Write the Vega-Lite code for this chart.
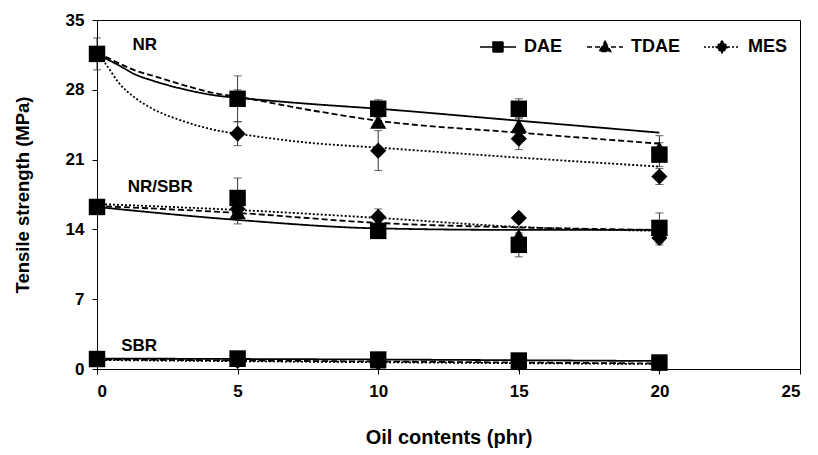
{
  "$schema": "https://vega.github.io/schema/vega-lite/v6.json",
  "width": 703,
  "height": 349,
  "autosize": {"type": "none"},
  "padding": {"left": 97, "top": 20, "right": 18, "bottom": 86},
  "background": "white",
  "config": {
    "font": "Liberation Sans",
    "view": {"stroke": "black", "strokeWidth": 1},
    "axis": {
      "labelFont": "Liberation Sans", "labelFontWeight": "bold", "labelFontSize": 17, "labelColor": "black",
      "titleFont": "Liberation Sans", "titleFontWeight": "bold", "titleFontSize": 19, "titleColor": "black",
      "domainColor": "black", "tickColor": "black", "grid": false, "tickSize": 5, "domainWidth": 1, "tickWidth": 1
    }
  },
  "datasets": {
    "points": [
      {"compound": "NR", "oil": "MES", "x": 0, "y": 31.6, "err": 0},
      {"compound": "NR", "oil": "MES", "x": 5, "y": 23.6, "err": 1.2},
      {"compound": "NR", "oil": "MES", "x": 10, "y": 21.9, "err": 2.0},
      {"compound": "NR", "oil": "MES", "x": 15, "y": 23.1, "err": 1.1},
      {"compound": "NR", "oil": "MES", "x": 20, "y": 19.3, "err": 0.8},
      {"compound": "NR", "oil": "TDAE", "x": 0, "y": 31.6, "err": 0},
      {"compound": "NR", "oil": "TDAE", "x": 5, "y": 27.2, "err": 0.8},
      {"compound": "NR", "oil": "TDAE", "x": 10, "y": 24.8, "err": 0.6},
      {"compound": "NR", "oil": "TDAE", "x": 15, "y": 24.4, "err": 0.8},
      {"compound": "NR", "oil": "TDAE", "x": 20, "y": 22.1, "err": 1.3},
      {"compound": "NR", "oil": "DAE", "x": 0, "y": 31.6, "err": 1.6},
      {"compound": "NR", "oil": "DAE", "x": 5, "y": 27.1, "err": 2.3},
      {"compound": "NR", "oil": "DAE", "x": 10, "y": 26.1, "err": 0.9},
      {"compound": "NR", "oil": "DAE", "x": 15, "y": 26.1, "err": 1.0},
      {"compound": "NR", "oil": "DAE", "x": 20, "y": 21.5, "err": 1.2},
      {"compound": "NR/SBR", "oil": "MES", "x": 0, "y": 16.25, "err": 0},
      {"compound": "NR/SBR", "oil": "MES", "x": 5, "y": 16.05, "err": 0.5},
      {"compound": "NR/SBR", "oil": "MES", "x": 10, "y": 15.25, "err": 0.8},
      {"compound": "NR/SBR", "oil": "MES", "x": 15, "y": 15.15, "err": 0.4},
      {"compound": "NR/SBR", "oil": "MES", "x": 20, "y": 13.15, "err": 0.7},
      {"compound": "NR/SBR", "oil": "TDAE", "x": 0, "y": 16.25, "err": 0},
      {"compound": "NR/SBR", "oil": "TDAE", "x": 5, "y": 15.75, "err": 1.2},
      {"compound": "NR/SBR", "oil": "TDAE", "x": 10, "y": 14.25, "err": 0.5},
      {"compound": "NR/SBR", "oil": "TDAE", "x": 15, "y": 13.35, "err": 0.8},
      {"compound": "NR/SBR", "oil": "TDAE", "x": 20, "y": 14.05, "err": 0.8},
      {"compound": "NR/SBR", "oil": "DAE", "x": 0, "y": 16.25, "err": 0.3},
      {"compound": "NR/SBR", "oil": "DAE", "x": 5, "y": 17.15, "err": 2.0},
      {"compound": "NR/SBR", "oil": "DAE", "x": 10, "y": 13.85, "err": 0.6},
      {"compound": "NR/SBR", "oil": "DAE", "x": 15, "y": 12.45, "err": 1.2},
      {"compound": "NR/SBR", "oil": "DAE", "x": 20, "y": 14.15, "err": 1.5},
      {"compound": "SBR", "oil": "MES", "x": 0, "y": 1.0, "err": 0},
      {"compound": "SBR", "oil": "MES", "x": 5, "y": 0.8, "err": 0.4},
      {"compound": "SBR", "oil": "MES", "x": 10, "y": 0.65, "err": 0.3},
      {"compound": "SBR", "oil": "MES", "x": 15, "y": 0.6, "err": 0.3},
      {"compound": "SBR", "oil": "MES", "x": 20, "y": 0.5, "err": 0.3},
      {"compound": "SBR", "oil": "TDAE", "x": 0, "y": 1.0, "err": 0},
      {"compound": "SBR", "oil": "TDAE", "x": 5, "y": 0.9, "err": 0.5},
      {"compound": "SBR", "oil": "TDAE", "x": 10, "y": 0.75, "err": 0.3},
      {"compound": "SBR", "oil": "TDAE", "x": 15, "y": 0.7, "err": 0.4},
      {"compound": "SBR", "oil": "TDAE", "x": 20, "y": 0.55, "err": 0.3},
      {"compound": "SBR", "oil": "DAE", "x": 0, "y": 1.0, "err": 0.3},
      {"compound": "SBR", "oil": "DAE", "x": 5, "y": 1.05, "err": 0.5},
      {"compound": "SBR", "oil": "DAE", "x": 10, "y": 0.95, "err": 0.5},
      {"compound": "SBR", "oil": "DAE", "x": 15, "y": 0.85, "err": 0.5},
      {"compound": "SBR", "oil": "DAE", "x": 20, "y": 0.65, "err": 0.5}
    ],
    "fits": [
      {"compound": "NR", "oil": "DAE", "x": 0, "y": 31.6},
      {"compound": "NR", "oil": "DAE", "x": 0.3, "y": 31.15},
      {"compound": "NR", "oil": "DAE", "x": 0.75, "y": 30.5},
      {"compound": "NR", "oil": "DAE", "x": 1.35, "y": 29.55},
      {"compound": "NR", "oil": "DAE", "x": 2, "y": 28.9},
      {"compound": "NR", "oil": "DAE", "x": 3.1, "y": 28.05},
      {"compound": "NR", "oil": "DAE", "x": 4.3, "y": 27.4},
      {"compound": "NR", "oil": "DAE", "x": 5, "y": 27.2},
      {"compound": "NR", "oil": "DAE", "x": 7.5, "y": 26.6},
      {"compound": "NR", "oil": "DAE", "x": 10, "y": 26.1},
      {"compound": "NR", "oil": "DAE", "x": 15, "y": 24.9},
      {"compound": "NR", "oil": "DAE", "x": 20, "y": 23.7},
      {"compound": "NR", "oil": "TDAE", "x": 0, "y": 31.6},
      {"compound": "NR", "oil": "TDAE", "x": 0.3, "y": 31.3},
      {"compound": "NR", "oil": "TDAE", "x": 0.75, "y": 30.7},
      {"compound": "NR", "oil": "TDAE", "x": 1.35, "y": 29.95},
      {"compound": "NR", "oil": "TDAE", "x": 2, "y": 29.4},
      {"compound": "NR", "oil": "TDAE", "x": 3.1, "y": 28.45},
      {"compound": "NR", "oil": "TDAE", "x": 4.3, "y": 27.6},
      {"compound": "NR", "oil": "TDAE", "x": 5, "y": 27.3},
      {"compound": "NR", "oil": "TDAE", "x": 7.5, "y": 26.0},
      {"compound": "NR", "oil": "TDAE", "x": 10, "y": 24.9},
      {"compound": "NR", "oil": "TDAE", "x": 15, "y": 23.7},
      {"compound": "NR", "oil": "TDAE", "x": 20, "y": 22.6},
      {"compound": "NR", "oil": "MES", "x": 0, "y": 31.6},
      {"compound": "NR", "oil": "MES", "x": 0.28, "y": 30.7},
      {"compound": "NR", "oil": "MES", "x": 0.76, "y": 28.75},
      {"compound": "NR", "oil": "MES", "x": 1.35, "y": 27.2},
      {"compound": "NR", "oil": "MES", "x": 1.94, "y": 26.15},
      {"compound": "NR", "oil": "MES", "x": 3.13, "y": 24.8},
      {"compound": "NR", "oil": "MES", "x": 4.3, "y": 23.9},
      {"compound": "NR", "oil": "MES", "x": 5, "y": 23.6},
      {"compound": "NR", "oil": "MES", "x": 7.5, "y": 22.7},
      {"compound": "NR", "oil": "MES", "x": 10, "y": 22.2},
      {"compound": "NR", "oil": "MES", "x": 15, "y": 21.2},
      {"compound": "NR", "oil": "MES", "x": 20, "y": 20.3},
      {"compound": "NR/SBR", "oil": "DAE", "x": 0, "y": 16.25},
      {"compound": "NR/SBR", "oil": "DAE", "x": 5, "y": 14.95},
      {"compound": "NR/SBR", "oil": "DAE", "x": 10, "y": 14.1},
      {"compound": "NR/SBR", "oil": "DAE", "x": 15, "y": 13.95},
      {"compound": "NR/SBR", "oil": "DAE", "x": 20, "y": 13.95},
      {"compound": "NR/SBR", "oil": "TDAE", "x": 0, "y": 16.35},
      {"compound": "NR/SBR", "oil": "TDAE", "x": 5, "y": 15.65},
      {"compound": "NR/SBR", "oil": "TDAE", "x": 10, "y": 14.65},
      {"compound": "NR/SBR", "oil": "TDAE", "x": 15, "y": 14.2},
      {"compound": "NR/SBR", "oil": "TDAE", "x": 20, "y": 13.95},
      {"compound": "NR/SBR", "oil": "MES", "x": 0, "y": 16.55},
      {"compound": "NR/SBR", "oil": "MES", "x": 5, "y": 15.95},
      {"compound": "NR/SBR", "oil": "MES", "x": 10, "y": 15.15},
      {"compound": "NR/SBR", "oil": "MES", "x": 15, "y": 14.25},
      {"compound": "NR/SBR", "oil": "MES", "x": 20, "y": 13.85},
      {"compound": "SBR", "oil": "DAE", "x": 0, "y": 1.05},
      {"compound": "SBR", "oil": "DAE", "x": 10, "y": 0.95},
      {"compound": "SBR", "oil": "DAE", "x": 20, "y": 0.8},
      {"compound": "SBR", "oil": "TDAE", "x": 0, "y": 0.95},
      {"compound": "SBR", "oil": "TDAE", "x": 10, "y": 0.75},
      {"compound": "SBR", "oil": "TDAE", "x": 20, "y": 0.55},
      {"compound": "SBR", "oil": "MES", "x": 0, "y": 0.9},
      {"compound": "SBR", "oil": "MES", "x": 10, "y": 0.68},
      {"compound": "SBR", "oil": "MES", "x": 20, "y": 0.5}
    ],
    "labels": [
      {"label": "NR", "x": 1.7, "y": 32.5},
      {"label": "NR/SBR", "x": 2.25, "y": 18.25},
      {"label": "SBR", "x": 1.5, "y": 2.3}
    ]
  },
  "resolve": {"scale": {"shape": "independent", "strokeDash": "independent", "stroke": "independent"}},
  "layer": [
    {
      "data": {"name": "fits"},
      "mark": {"type": "line", "color": "black", "strokeWidth": 1.8, "interpolate": "monotone"},
      "encoding": {
        "x": {"field": "x", "type": "quantitative", "scale": {"domain": [0, 25], "nice": false}, "title": "Oil contents (phr)",
              "axis": {"values": [0, 5, 10, 15, 20, 25], "title": "Oil contents (phr)", "titleFontSize": 20, "labelPadding": 9, "titlePadding": 28}},
        "y": {"field": "y", "type": "quantitative", "scale": {"domain": [0, 35], "nice": false}, "title": "Tensile strength (MPa)",
              "axis": {"values": [0, 7, 14, 21, 28, 35], "title": "Tensile strength (MPa)", "titleFontSize": 18.5, "labelPadding": 8, "titlePadding": 33}},
        "detail": [{"field": "compound"}, {"field": "oil"}],
        "strokeDash": {"field": "oil", "type": "nominal", "scale": {"domain": ["DAE", "TDAE", "MES"], "range": [[1, 0], [6, 3], [2, 2]]}, "legend": null}
      }
    },
    {
      "data": {"name": "points"},
      "transform": [{"filter": "datum.err > 0"}],
      "mark": {"type": "errorbar", "ticks": {"size": 8, "thickness": 1, "color": "#222"}, "rule": {"color": "#333", "strokeWidth": 1}},
      "encoding": {
        "x": {"field": "x", "type": "quantitative", "title": "Oil contents (phr)"},
        "y": {"field": "y", "type": "quantitative", "title": "Tensile strength (MPa)"},
        "yError": {"field": "err"}
      }
    },
    {
      "data": {"name": "points"},
      "mark": {"type": "point", "filled": true, "color": "black", "opacity": 1},
      "encoding": {
        "x": {"field": "x", "type": "quantitative", "title": "Oil contents (phr)"},
        "y": {"field": "y", "type": "quantitative", "title": "Tensile strength (MPa)"},
        "shape": {"field": "oil", "type": "nominal", "scale": {"domain": ["DAE", "TDAE", "MES"], "range": ["square", "triangle-up", "diamond"]}, "legend": null},
        "size": {"field": "oil", "type": "nominal", "scale": {"domain": ["DAE", "TDAE", "MES"], "range": [270, 260, 260]}, "legend": null}
      }
    },
    {
      "data": {"name": "points"},
      "mark": {"type": "point", "filled": true, "color": "black", "opacity": 0},
      "encoding": {
        "x": {"field": "x", "type": "quantitative", "title": "Oil contents (phr)"},
        "y": {"field": "y", "type": "quantitative", "title": "Tensile strength (MPa)"},
        "shape": {"field": "oil", "type": "nominal",
          "scale": {"domain": ["DAE", "TDAE", "MES"], "range": ["M-3.6,0H3.6M-1,-1H1V1H-1Z", "M-3.6,0H3.6M0,-1.15L1.15,0.9L-1.15,0.9Z", "M-3.6,0H3.6M0,-1.2L1.2,0L0,1.2L-1.2,0Z"]},
          "legend": {"title": null, "orient": "none", "legendX": 392, "legendY": 18, "direction": "horizontal", "symbolSize": 100, "symbolStrokeColor": "black", "symbolStrokeWidth": 1.5, "symbolFillColor": "black", "symbolOpacity": 1, "labelFont": "Liberation Sans", "labelFontWeight": "bold", "labelFontSize": 18, "labelColor": "black", "labelOffset": 17, "columnPadding": 21}},
        "strokeDash": {"field": "oil", "type": "nominal",
          "scale": {"domain": ["DAE", "TDAE", "MES"], "range": [[1, 0], [5, 3], [2, 2]]},
          "legend": {"title": null, "orient": "none", "legendX": 392, "legendY": 18, "direction": "horizontal", "symbolSize": 100, "symbolStrokeColor": "black", "symbolStrokeWidth": 1.5, "symbolFillColor": "black", "symbolOpacity": 1, "labelFont": "Liberation Sans", "labelFontWeight": "bold", "labelFontSize": 18, "labelColor": "black", "labelOffset": 17, "columnPadding": 21}},
        "stroke": {"field": "oil", "type": "nominal",
          "scale": {"domain": ["DAE", "TDAE", "MES"], "range": ["black", "black", "black"]},
          "legend": {"title": null, "orient": "none", "legendX": 392, "legendY": 18, "direction": "horizontal", "symbolSize": 100, "symbolStrokeWidth": 1.5, "symbolFillColor": "black", "symbolOpacity": 1, "labelFont": "Liberation Sans", "labelFontWeight": "bold", "labelFontSize": 18, "labelColor": "black", "labelOffset": 17, "columnPadding": 21}}
      }
    },
    {
      "data": {"name": "labels"},
      "mark": {"type": "text", "font": "Liberation Sans", "fontWeight": "bold", "fontSize": 17, "color": "black", "align": "center", "baseline": "middle"},
      "encoding": {
        "x": {"field": "x", "type": "quantitative", "title": "Oil contents (phr)"},
        "y": {"field": "y", "type": "quantitative", "title": "Tensile strength (MPa)"},
        "text": {"field": "label"}
      }
    }
  ]
}
